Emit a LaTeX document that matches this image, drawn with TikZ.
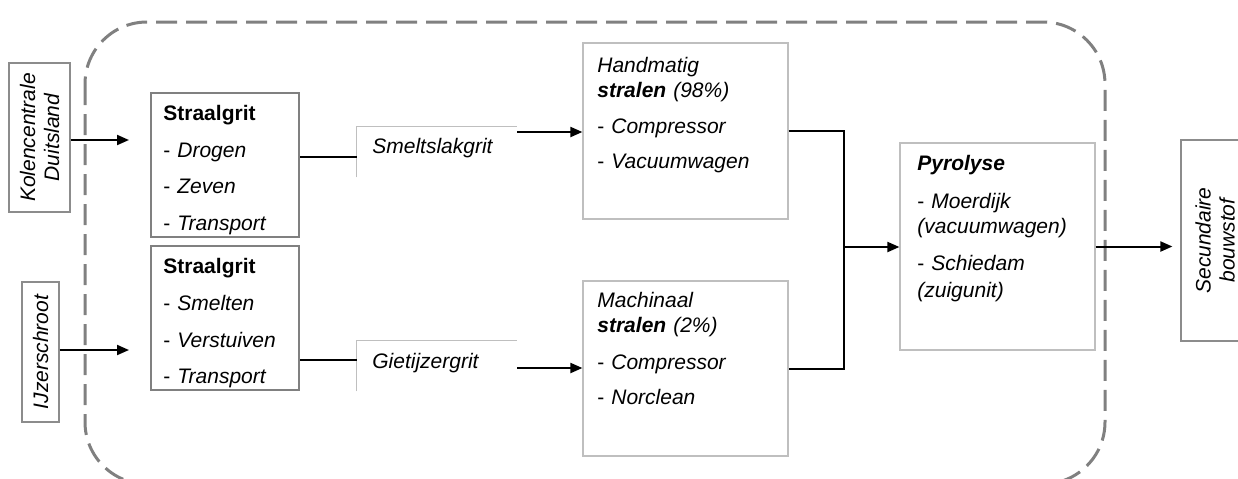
\documentclass[tikz,border=0pt]{standalone}
\usepackage{fontspec}
\setmainfont{Liberation Sans}
\usetikzlibrary{arrows.meta}
\begin{document}
\begin{tikzpicture}[x=0.5pt,y=-0.5pt,
  txt/.style={font=\fontsize{10.5}{12.5}\selectfont, inner sep=0pt, align=left, text width=#1, anchor=base west},
  txt/.default=100pt,
  rtxt/.style={font=\fontsize{10.5}{12}\selectfont\itshape, align=center, rotate=90, inner sep=0pt},
  srcbox/.style={draw=black!45, line width=0.6pt},
  grbox/.style={draw=black!50, line width=1pt, inner sep=0pt},
  ltbox/.style={draw=black!25, line width=0.6pt, inner sep=0pt},
  ltline/.style={draw=black!25, line width=0.8pt},
  conn/.style={line width=1pt, black},
  arr/.style={conn, -{Triangle[length=6pt,width=5pt]}},
]
\useasboundingbox (0,0) rectangle (1238,478);
% boundary
\draw[black!50, line width=1.5pt, dash pattern=on 10.5pt off 4.5pt, rounded corners=31pt] (85,22) rectangle (1105,484);

% source boxes (rotated 90: node south = right side, node north = left side on page)
\node[srcbox, rtxt, minimum width=74.5pt, minimum height=30.5pt] (kol) at (39.5,137.5) {Kolencentrale\\Duitsland};
\node[srcbox, rtxt, minimum width=70pt, minimum height=18.5pt] (ijz) at (40.5,352) {IJzerschroot};
\node[srcbox, rtxt, minimum width=100.5pt, minimum height=34pt] (sec) at (1215,240.5) {Secundaire\\bouwstof};

% Straalgrit boxes
\node[grbox, minimum width=74pt, minimum height=72pt] (s1) at (225,165) {};
\node[txt] (t1) at (163,120) {\textbf{Straalgrit}\\[6pt]- \textit{Drogen}\\[5.5pt]- \textit{Zeven}\\[6pt]- \textit{Transport}};
\node[grbox, minimum width=74pt, minimum height=72pt] (s2) at (225,318) {};
\node[txt] (t2) at (163,273) {\textbf{Straalgrit}\\[6pt]- \textit{Smelten}\\[6pt]- \textit{Verstuiven}\\[5.5pt]- \textit{Transport}};

% grit type boxes (open)
\node[inner sep=0pt, minimum width=80pt, minimum height=25pt] (smelt) at (437,152) {};
\draw[ltline] (smelt.south west) -- (smelt.north west) -- (smelt.north east);
\node[txt] (t3) at (372,153) {\textit{Smeltslakgrit}};
\node[inner sep=0pt, minimum width=80pt, minimum height=25pt] (giet) at (437,366) {};
\draw[ltline] (giet.south west) -- (giet.north west) -- (giet.north east);
\node[txt] (t4) at (372,368) {\textit{Gietijzergrit}};

% blasting boxes
\node[ltbox, minimum width=102.5pt, minimum height=88pt] (h) at (685.5,131) {};
\node[txt] (t5) at (597,72) {\textit{Handmatig}\\\textbf{\textit{stralen}} \textit{(98\%)}\\[5.5pt]- \textit{Compressor}\\[5pt]- \textit{Vacuumwagen}};
\node[ltbox, minimum width=102.5pt, minimum height=87.5pt] (m) at (685.5,368.5) {};
\node[txt] (t6) at (597,307) {\textit{Machinaal}\\\textbf{\textit{stralen}} \textit{(2\%)}\\[6pt]- \textit{Compressor}\\[5pt]- \textit{Norclean}};

% pyrolyse
\node[ltbox, minimum width=97.5pt, minimum height=103.5pt] (pyr) at (997.5,246.5) {};
\node[txt] (t7) at (917,170) {\textbf{\textit{Pyrolyse}}\\[6.5pt]- \textit{Moerdijk}\\\textit{(vacuumwagen)}\\[6pt]- \textit{Schiedam}\\[1pt]\textit{(zuigunit)}};

% connectors
\draw[arr, shorten >=10.5pt] (kol.south |- 0,140) -- (s1.west |- 0,140);
\draw[arr, shorten >=10.5pt] (ijz.south |- 0,350) -- (s2.west |- 0,350);
\draw[conn] (s1.east |- 0,157) -- (smelt.west |- 0,157);
\draw[conn] (s2.east |- 0,360) -- (giet.west |- 0,360);
\draw[arr] (smelt.north east |- 0,132) -- (h.west |- 0,132);
\draw[arr] (giet.east |- 0,368) -- (m.west |- 0,368);
\coordinate (j) at (844,247);
\draw[conn] (h.east) -| (j) |- (m.east);
\draw[arr] (j) -- (j -| pyr.west);
\draw[arr, shorten >=4pt] (pyr.east) -- (pyr.east -| sec.north);
\end{tikzpicture}
\end{document}
